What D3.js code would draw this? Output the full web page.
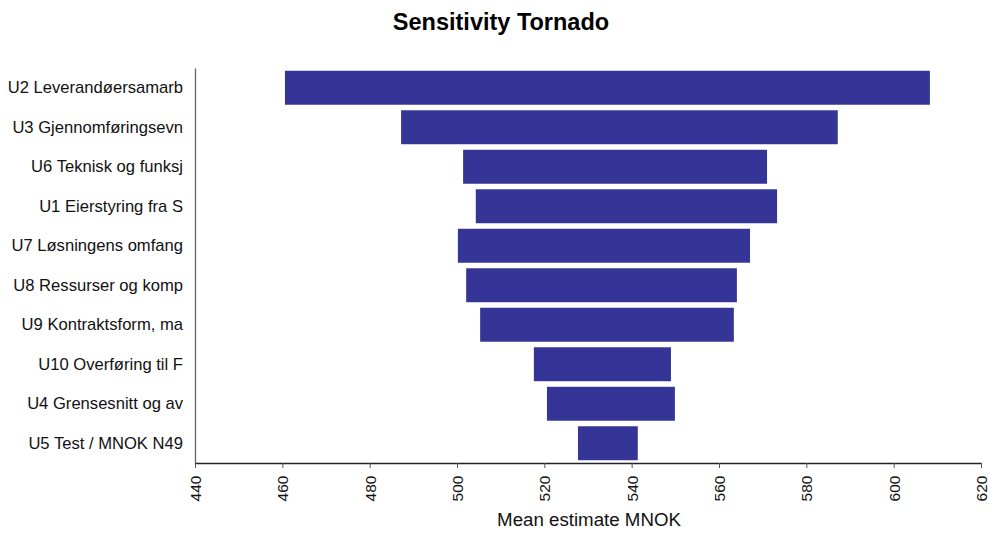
<!DOCTYPE html>
<html>
<head>
<meta charset="utf-8">
<script src="https://cdn.jsdelivr.net/npm/d3@7"></script>
<style>
  html, body { margin: 0; padding: 0; background: #fff; }
  svg { display: block; font-family: "Liberation Sans", Arial, sans-serif; }
</style>
</head>
<body>
<svg id="chart" width="990" height="534"></svg>
<script>
const categories = [
  "U2 Leverandøersamarb",
  "U3 Gjennomføringsevn",
  "U6 Teknisk og funksj",
  "U1 Eierstyring fra S",
  "U7 Løsningens omfang",
  "U8 Ressurser og komp",
  "U9 Kontraktsform, ma",
  "U10 Overføring til F",
  "U4 Grensesnitt og av",
  "U5 Test / MNOK N49"
];
const lowValues  = [460.6, 487.2, 501.4, 504.3, 500.2, 502.1, 505.3, 517.6, 520.6, 527.7];
const highValues = [608.3, 587.2, 571.0, 573.3, 567.1, 564.1, 563.4, 549.0, 549.9, 541.4];
const xTicks = [440, 460, 480, 500, 520, 540, 560, 580, 600, 620];
const title = "Sensitivity Tornado";
const xLabel = "Mean estimate MNOK";

const rows = categories.map((c, i) => ({ name: c, low: lowValues[i], high: highValues[i] }));

const svg = d3.select("#chart");
const x = d3.scaleLinear().domain([440, 620]).range([195, 981]);
const y = d3.scaleBand().domain(categories).range([68, 463]).paddingInner(0.14).paddingOuter(0.07);

// Bars
svg.append("g").selectAll("rect").data(rows).join("rect")
  .attr("x", d => x(d.low))
  .attr("y", d => y(d.name))
  .attr("width", d => x(d.high) - x(d.low))
  .attr("height", y.bandwidth())
  .attr("fill", "#353598");

// Y axis
const yAxis = svg.append("g").attr("transform", "translate(195,0)")
  .call(d3.axisLeft(y).tickSize(0).tickPadding(12));
yAxis.select(".domain").attr("stroke", "#666").attr("stroke-width", 1.3);
yAxis.selectAll("text").attr("font-size", 16.6).attr("fill", "#111")
  .attr("font-family", "Liberation Sans, Arial, sans-serif");

// X axis
const xAxis = svg.append("g").attr("transform", "translate(0,463)")
  .call(d3.axisBottom(x).tickValues(xTicks).tickSize(5).tickSizeOuter(0).tickFormat(d3.format("d")));
xAxis.select(".domain").attr("stroke", "#222").attr("stroke-width", 1.5);
xAxis.selectAll(".tick line").attr("stroke", "#555");
xAxis.selectAll("text")
  .attr("transform", "rotate(-90)")
  .attr("text-anchor", "end")
  .attr("x", -12.5)
  .attr("y", 0)
  .attr("dy", "0.35em")
  .attr("font-size", 15.5)
  .attr("fill", "#111")
  .attr("font-family", "Liberation Sans, Arial, sans-serif");

// Title
svg.append("text")
  .attr("x", 501).attr("y", 30)
  .attr("text-anchor", "middle")
  .attr("font-size", 23.5).attr("font-weight", "bold").attr("fill", "#000")
  .text(title);

// X label
svg.append("text")
  .attr("x", 589).attr("y", 526)
  .attr("text-anchor", "middle")
  .attr("font-size", 18.7).attr("fill", "#111")
  .text(xLabel);
</script>
</body>
</html>
